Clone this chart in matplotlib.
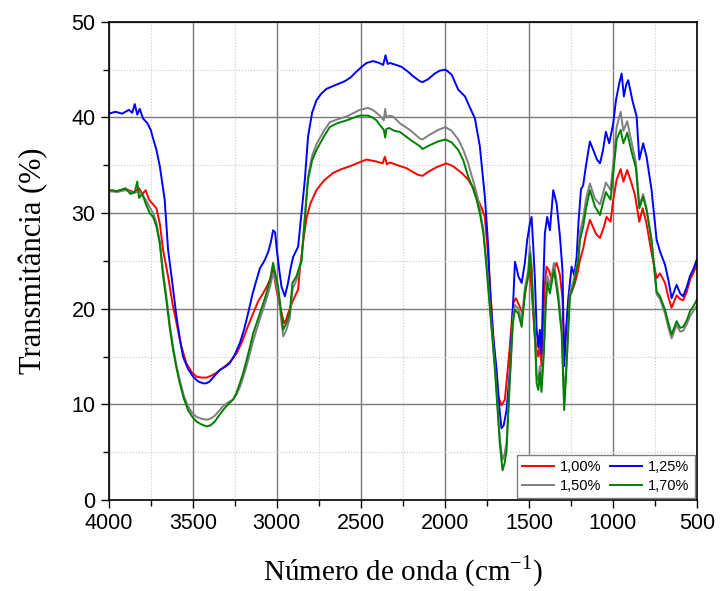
import matplotlib
matplotlib.use('Agg')
import matplotlib.pyplot as plt
from matplotlib.ticker import MultipleLocator

### Espectros FTIR (numero de onda em cm-1, transmitancia em %)
wn_100 = [4000, 3950, 3900, 3850, 3820, 3800, 3780, 3760, 3740, 3716, 3695, 3677, 3647, 3620, 3597, 3570,
          3538, 3508, 3478, 3448, 3418, 3390, 3359, 3330, 3299, 3270, 3240, 3210, 3180, 3141, 3110, 3082,
          3060, 3042, 3022, 3002, 2980, 2957, 2945, 2933, 2903, 2873, 2863, 2843, 2823, 2800, 2764, 2720,
          2665, 2615, 2565, 2510, 2466, 2407, 2370, 2357, 2345, 2327, 2280, 2228, 2190, 2159, 2133, 2100,
          2050, 1990, 1950, 1900, 1861, 1830, 1801, 1780, 1762, 1742, 1712, 1682, 1663, 1643, 1617, 1593,
          1577, 1554, 1538, 1514, 1494, 1480, 1465, 1454, 1444, 1435, 1425, 1415, 1405, 1395, 1380, 1365,
          1350, 1335, 1315, 1300, 1290, 1280, 1270, 1256, 1240, 1226, 1210, 1196, 1177, 1160, 1137, 1115,
          1100, 1077, 1055, 1038, 1014, 998, 978, 954, 938, 915, 889, 869, 843, 823, 800, 770,
          740, 720, 690, 670, 651, 621, 600, 582, 560, 542, 520, 502]
t_100 = [32.4, 32.3, 32.5, 32.2, 32.6, 32.0, 32.4, 31.4, 31.0, 30.5, 28.8, 26.2, 23.4, 20.5, 18.5, 16.2,
         14.3, 13.4, 12.9, 12.8, 12.8, 13.0, 13.3, 13.7, 14.1, 14.6, 15.3, 16.4, 17.8, 19.5, 20.8, 21.6,
         22.3, 23.0, 24.1, 22.0, 20.2, 18.5, 18.8, 19.5, 20.9, 22.0, 24.1, 27.0, 29.5, 31.0, 32.4, 33.4,
         34.2, 34.6, 34.9, 35.3, 35.6, 35.4, 35.2, 35.9, 35.1, 35.3, 35.0, 34.7, 34.3, 34.0, 33.9, 34.3,
         34.8, 35.2, 34.9, 34.2, 33.5, 32.6, 31.3, 30.5, 29.6, 25.4, 17.1, 10.8, 9.9, 10.5, 15.3, 20.6,
         21.1, 20.2, 19.5, 22.7, 24.5, 21.0, 17.0, 15.7, 15.0, 16.4, 14.0, 18.0, 22.5, 24.4, 24.0, 23.0,
         24.2, 24.8, 23.5, 21.0, 14.6, 17.0, 19.5, 21.3, 22.0, 22.7, 23.8, 25.1, 26.3, 27.8, 29.3, 28.4,
         27.8, 27.4, 28.5, 29.6, 29.1, 31.4, 33.5, 34.6, 33.3, 34.5, 33.1, 31.9, 29.1, 30.5, 28.9, 25.8,
         23.2, 23.7, 22.7, 21.2, 20.1, 21.4, 21.0, 20.9, 21.8, 23.0, 23.8, 24.6]

wn_125 = [4000, 3960, 3920, 3880, 3860, 3845, 3830, 3815, 3796, 3770, 3750, 3736, 3716, 3696, 3667, 3647,
          3620, 3597, 3578, 3558, 3528, 3498, 3468, 3439, 3420, 3399, 3370, 3339, 3310, 3280, 3250, 3220,
          3195, 3171, 3145, 3121, 3101, 3071, 3050, 3035, 3022, 3010, 3002, 2985, 2972, 2952, 2933, 2918,
          2903, 2873, 2853, 2833, 2814, 2790, 2764, 2735, 2704, 2650, 2595, 2560, 2526, 2495, 2466, 2427,
          2390, 2367, 2353, 2340, 2327, 2290, 2258, 2220, 2188, 2149, 2133, 2100, 2060, 2030, 1996, 1960,
          1920, 1880, 1850, 1821, 1792, 1762, 1742, 1732, 1712, 1692, 1675, 1663, 1650, 1633, 1613, 1593,
          1583, 1570, 1563, 1543, 1524, 1510, 1494, 1484, 1474, 1464, 1454, 1444, 1435, 1425, 1415, 1405,
          1391, 1375, 1355, 1335, 1315, 1300, 1290, 1280, 1266, 1246, 1230, 1216, 1205, 1190, 1177, 1161,
          1137, 1113, 1095, 1077, 1060, 1042, 1022, 998, 982, 962, 948, 935, 920, 909, 883, 859,
          843, 820, 800, 770, 740, 720, 690, 670, 651, 636, 621, 600, 582, 560, 542, 520, 502]
t_125 = [40.4, 40.6, 40.4, 40.8, 40.5, 41.4, 40.3, 40.9, 39.9, 39.4, 38.7, 37.8, 36.6, 34.9, 31.4, 26.2,
         22.5, 19.2, 17.0, 15.0, 13.7, 12.9, 12.4, 12.2, 12.2, 12.4, 13.0, 13.6, 13.9, 14.3, 15.2, 16.4,
         17.8, 19.5, 21.5, 23.0, 24.2, 25.1, 26.0, 27.0, 28.2, 28.0, 26.5, 24.0, 22.3, 21.3, 22.7, 24.2,
         25.4, 26.5, 30.0, 33.5, 38.0, 40.5, 41.8, 42.5, 43.0, 43.4, 43.8, 44.2, 44.8, 45.3, 45.7, 45.9,
         45.7, 45.5, 46.5, 45.6, 45.7, 45.5, 45.3, 44.8, 44.3, 43.8, 43.7, 44.0, 44.6, 44.9, 45.0, 44.5,
         42.9, 42.2, 41.0, 39.9, 37.0, 31.7, 26.5, 22.0, 17.0, 13.6, 9.5, 7.5, 7.8, 9.4, 13.6, 20.9,
         24.9, 24.0, 23.4, 22.7, 24.8, 27.2, 28.9, 29.6, 26.5, 23.0, 17.8, 16.0, 17.8, 15.3, 22.3, 27.9,
         29.6, 28.2, 32.4, 31.0, 27.5, 24.0, 14.0, 17.5, 21.0, 24.4, 23.5, 25.4, 29.0, 32.5, 32.9, 34.9,
         37.5, 36.4, 35.6, 35.2, 36.5, 38.5, 37.3, 39.4, 41.8, 43.6, 44.6, 42.2, 43.5, 43.9, 41.7, 40.1,
         35.6, 37.3, 35.9, 32.4, 27.2, 26.0, 24.6, 23.0, 21.1, 21.8, 22.5, 21.6, 21.3, 22.3, 23.4, 24.2, 25.1]

wn_150 = [4000, 3950, 3900, 3850, 3820, 3800, 3780, 3756, 3736, 3716, 3696, 3677, 3657, 3637, 3617, 3597,
          3577, 3553, 3528, 3503, 3478, 3448, 3418, 3395, 3369, 3345, 3320, 3290, 3260, 3240, 3220, 3200,
          3180, 3160, 3141, 3120, 3101, 3080, 3062, 3040, 3022, 3008, 2992, 2975, 2962, 2943, 2923, 2907,
          2883, 2853, 2835, 2814, 2790, 2764, 2720, 2685, 2640, 2585, 2540, 2506, 2457, 2430, 2407, 2377,
          2363, 2355, 2348, 2330, 2308, 2268, 2208, 2149, 2133, 2090, 2040, 1996, 1960, 1920, 1890, 1861,
          1835, 1811, 1790, 1771, 1751, 1725, 1702, 1685, 1673, 1657, 1645, 1633, 1613, 1595, 1583, 1563,
          1543, 1524, 1504, 1494, 1484, 1474, 1464, 1454, 1444, 1435, 1425, 1411, 1399, 1390, 1375, 1351,
          1325, 1305, 1290, 1276, 1256, 1236, 1206, 1196, 1177, 1160, 1137, 1107, 1077, 1060, 1042, 1014,
          998, 978, 954, 938, 915, 889, 863, 843, 820, 800, 770, 740, 720, 690, 670, 651,
          636, 621, 600, 582, 560, 542, 520, 502]
t_150 = [32.3, 32.2, 32.4, 32.1, 32.3, 31.9, 31.4, 30.6, 30.0, 29.0, 27.0, 24.0, 21.3, 18.4, 16.0, 14.1,
         12.5, 10.9, 9.8, 9.1, 8.7, 8.5, 8.4, 8.5, 8.8, 9.3, 9.8, 10.2, 10.5, 11.0, 11.8, 12.8,
         14.0, 15.3, 16.6, 17.8, 18.9, 20.0, 21.0, 22.3, 23.7, 23.0, 21.6, 19.0, 17.1, 17.8, 19.0, 22.0,
         23.0, 25.0, 29.3, 33.8, 36.0, 37.2, 38.6, 39.5, 39.8, 40.1, 40.5, 40.8, 41.0, 40.8, 40.5, 40.0,
         39.7, 40.9, 40.0, 40.2, 40.1, 39.4, 38.7, 37.8, 37.7, 38.2, 38.7, 39.0, 38.6, 37.7, 36.6, 35.2,
         33.6, 32.1, 30.3, 28.2, 24.5, 18.8, 14.0, 9.5, 6.4, 4.2, 4.8, 6.0, 13.0, 19.0, 20.4, 20.0,
         18.7, 22.2, 24.0, 26.5, 24.6, 20.6, 17.8, 13.0, 12.5, 14.0, 12.3, 16.0, 21.2, 23.4, 22.4, 24.8,
         21.6, 18.0, 10.5, 14.5, 21.7, 22.8, 25.3, 28.0, 29.5, 31.5, 33.1, 31.5, 30.9, 32.0, 33.2, 32.4,
         35.2, 39.0, 40.6, 38.6, 39.6, 37.4, 35.3, 30.8, 32.0, 30.5, 27.0, 21.5, 21.0, 19.5, 18.0, 16.9,
         17.6, 18.3, 17.6, 17.7, 18.4, 19.2, 19.8, 20.3]

wn_170 = [4000, 3950, 3900, 3870, 3845, 3830, 3820, 3800, 3780, 3756, 3736, 3716, 3696, 3677, 3657, 3637,
          3617, 3597, 3577, 3553, 3528, 3503, 3478, 3448, 3418, 3395, 3369, 3345, 3320, 3290, 3260, 3240,
          3220, 3200, 3180, 3160, 3141, 3120, 3101, 3080, 3062, 3040, 3022, 3008, 2992, 2975, 2962, 2943,
          2923, 2907, 2883, 2853, 2835, 2814, 2790, 2764, 2720, 2685, 2640, 2585, 2540, 2506, 2457, 2430,
          2407, 2377, 2363, 2355, 2348, 2330, 2300, 2268, 2200, 2149, 2133, 2090, 2040, 1996, 1960, 1920,
          1890, 1861, 1835, 1811, 1790, 1771, 1751, 1725, 1702, 1685, 1673, 1657, 1645, 1633, 1613, 1595,
          1583, 1563, 1543, 1524, 1504, 1494, 1484, 1474, 1464, 1454, 1444, 1435, 1425, 1411, 1399, 1390,
          1375, 1351, 1325, 1305, 1290, 1276, 1256, 1236, 1206, 1196, 1177, 1160, 1137, 1107, 1077, 1060,
          1042, 1014, 998, 978, 954, 938, 915, 889, 863, 843, 820, 800, 770, 740, 720, 690,
          670, 651, 636, 621, 600, 582, 560, 542, 520, 502]
t_170 = [32.4, 32.3, 32.6, 32.0, 32.2, 33.3, 31.6, 32.0, 31.0, 30.0, 29.6, 28.6, 26.8, 23.5, 20.9, 18.0,
         15.7, 13.8, 12.2, 10.6, 9.4, 8.7, 8.2, 7.9, 7.7, 7.8, 8.2, 8.8, 9.4, 10.0, 10.5, 11.2,
         12.2, 13.3, 14.6, 16.0, 17.4, 18.5, 19.5, 20.6, 21.6, 23.0, 24.8, 23.6, 22.3, 19.8, 17.8, 18.5,
         19.5, 22.7, 23.4, 25.0, 29.0, 33.5, 35.5, 36.6, 38.0, 39.0, 39.4, 39.7, 40.0, 40.2, 40.2, 40.0,
         39.7, 39.0, 38.7, 37.9, 38.8, 38.9, 38.6, 38.5, 37.6, 37.0, 36.7, 37.1, 37.5, 37.7, 37.4, 36.6,
         35.5, 33.8, 32.7, 31.4, 29.8, 27.9, 24.1, 18.5, 13.6, 9.0, 5.9, 3.1, 3.8, 5.2, 12.6, 18.5,
         19.9, 19.5, 18.1, 21.6, 23.4, 25.8, 24.0, 20.0, 17.1, 12.2, 11.5, 13.3, 11.3, 15.3, 20.6, 22.7,
         21.6, 24.1, 20.9, 17.4, 9.4, 13.9, 21.3, 22.3, 25.0, 27.2, 28.6, 30.5, 32.4, 30.7, 29.8, 31.0,
         32.2, 31.4, 34.2, 37.7, 38.7, 37.3, 38.4, 36.4, 34.7, 30.5, 31.7, 30.3, 27.2, 21.8, 21.3, 19.9,
         18.5, 17.3, 18.0, 18.7, 18.0, 18.1, 18.8, 19.7, 20.3, 20.9]

fig = plt.figure(figsize=(7.2, 5.91), dpi=100)
ax = fig.add_axes([0.151, 0.154, 0.817, 0.809])

l1, = ax.plot(wn_100, t_100, color='#ff0000', lw=1.4, label='1,00%')
l2, = ax.plot(wn_125, t_125, color='#0000ff', lw=1.4, label='1,25%')
l3, = ax.plot(wn_150, t_150, color='#808080', lw=1.4, label='1,50%')
l4, = ax.plot(wn_170, t_170, color='#008000', lw=1.4, label='1,70%')

ax.set_xlim(4000, 500)
ax.set_ylim(0, 50)
ax.xaxis.set_major_locator(MultipleLocator(500))
ax.xaxis.set_minor_locator(MultipleLocator(250))
ax.yaxis.set_major_locator(MultipleLocator(10))
ax.yaxis.set_minor_locator(MultipleLocator(5))
ax.grid(which='major', color='#7a7a7a', lw=1.0, ls='-')
ax.grid(which='minor', color='#c8c8c8', lw=0.8, ls=':')
ax.set_axisbelow(True)
ax.tick_params(which='major', direction='out', length=6, width=1, labelsize=15.5)
ax.tick_params(which='minor', direction='out', length=4, width=1)
for lab in ax.get_xticklabels() + ax.get_yticklabels():
    lab.set_family('Liberation Sans')
for s in ax.spines.values():
    s.set_linewidth(1.2)

ax.set_xlabel('Número de onda (cm$^{\\mathregular{-1}}$)', family='Liberation Serif', fontsize=21, labelpad=14)
ax.set_ylabel('Transmitância (%)', family='Liberation Serif', fontsize=22, labelpad=17)

leg = ax.legend(handles=[l1, l3, l2, l4], ncol=2, loc='lower right',
                prop={'family': 'Liberation Sans', 'size': 10.5}, fancybox=False,
                edgecolor='#808080', framealpha=1, handlelength=2.2, columnspacing=0.6,
                borderpad=0.35, labelspacing=0.3, handletextpad=0.4, borderaxespad=0.15)
leg.get_frame().set_linewidth(1.0)

fig.savefig('out.png', dpi=100)
